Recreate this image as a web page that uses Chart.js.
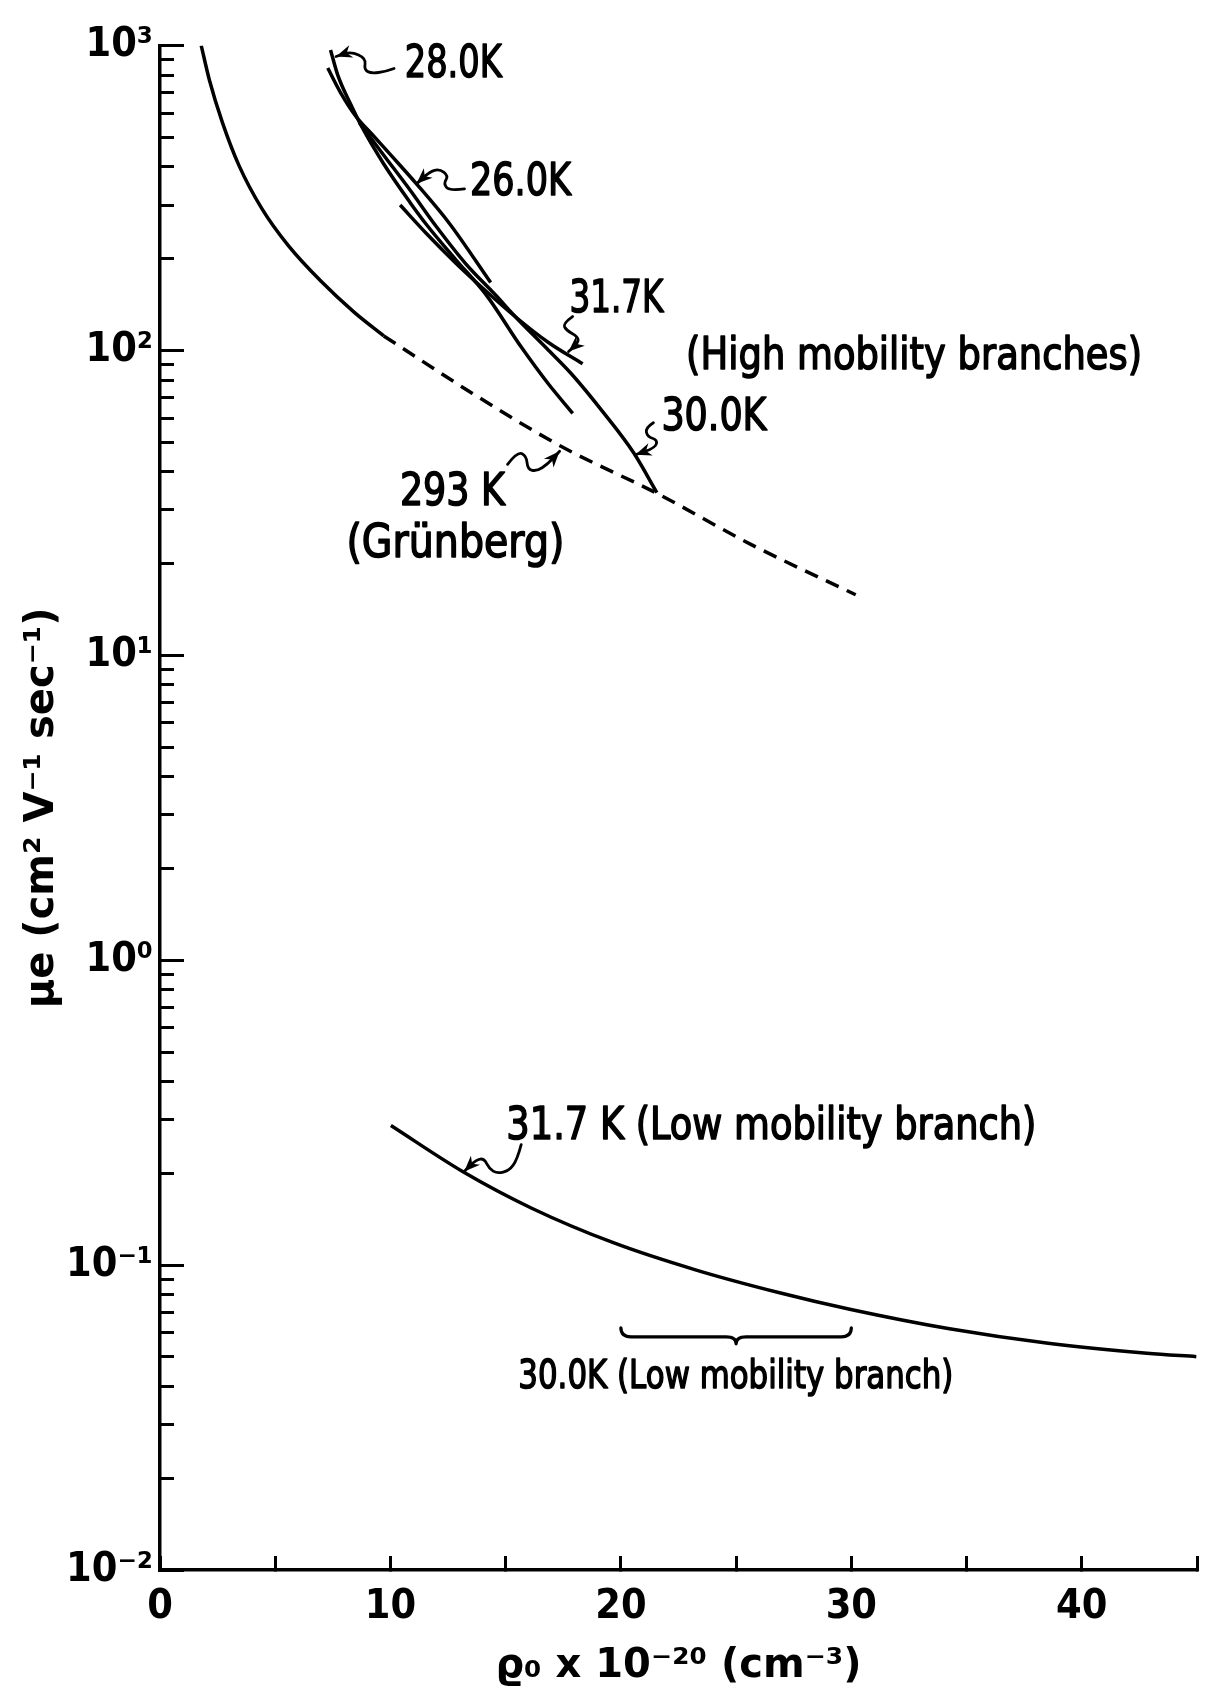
<!DOCTYPE html>
<html>
<head>
<meta charset="utf-8">
<style>
  html, body { margin: 0; padding: 0; background: #ffffff; }
  canvas { display: block; }
</style>
<script src="https://cdn.jsdelivr.net/npm/chart.js@4.4.1/dist/chart.umd.min.js"></script>
</head>
<body>
<canvas id="mobilityChart" width="1224" height="1697"></canvas>
<script>
// 293 K (Grünberg): solid part, then dashed continuation
const rho293Solid = [1.79, 2.14, 2.71, 3.43, 4.42, 5.57, 6.99, 8.42, 9.71];
const mu293Solid = [1000, 773, 559, 404, 292, 220.8, 168.6, 133.6, 111.6];
const rho293Dashed = [9.71, 13.56, 17.42, 21.56, 25.70, 30.19];
const mu293Dashed = [111.6, 72.3, 48.4, 34.0, 23.0, 15.8];

// high mobility branches
const rho26 = [7.28, 7.84, 8.48, 9.21, 10.06, 11.13, 12.56, 14.35];
const mu26 = [844, 700, 589, 511, 434, 352, 261, 167];
const rho28 = [7.40, 7.71, 8.28, 8.78, 9.71, 10.85, 11.56, 12.85, 14.13, 15.70, 16.84, 17.91];
const mu28 = [968, 802, 641, 538, 409, 306, 259, 198, 153, 102, 77.9, 62.2];
const rho30 = [8.65, 9.71, 10.85, 11.99, 13.28, 14.56, 15.42, 16.70, 17.85, 19.27, 20.56, 21.56];
const mu30 = [559, 437, 336, 255, 192, 152, 129, 103, 83.9, 62.2, 46.1, 34.2];
const rho317 = [10.42, 11.56, 12.85, 14.13, 15.42, 16.84, 18.34];
const mu317 = [300, 242, 193, 157, 129, 106.4, 90.4];

// 31.7 K low mobility branch
const rho317Low = [10.02, 13.13, 16.13, 19.70, 23.27, 26.84, 29.98, 34.26, 38.54, 42.83, 44.97];
const mu317Low = [0.287, 0.2028, 0.1537, 0.1182, 0.0963, 0.0813, 0.0715, 0.0618, 0.0554, 0.0514, 0.0501];

// 30.0 K low mobility branch: density range marked by the brace
const rho30LowRange = [20, 30];
const mu30LowLevel = 0.0582;

// axes
const xTickValues = [0, 5, 10, 15, 20, 25, 30, 35, 40, 45];
const xLabelledTicks = [0, 10, 20, 30, 40];
const yDecades = [0.01, 0.1, 1, 10, 100, 1000];
const yTickLabels = ["10⁻²", "10⁻¹", "10⁰", "10¹", "10²", "10³"];
const ySignificands = [1, 2, 3, 4, 5, 6, 7, 8, 9];
const xTitle = "ϱ₀ x 10⁻²⁰ (cm⁻³)";
const yTitle = "μe (cm² V⁻¹ sec⁻¹)";

const axisFont = { family: "'DejaVu Sans Condensed', 'DejaVu Sans', sans-serif", size: 41, weight: "bold" };
const titleFont = { family: "'DejaVu Sans', sans-serif", size: 40, weight: "bold" };
const labelFamily = "'DejaVu Sans', sans-serif";

// annotation texts, anchored at data coordinates (left edge, cap centre)
const curveLabels = [
  { text: "28.0K", x: 10.62, y: 889, width: 97, size: 44 },
  { text: "26.0K", x: 13.45, y: 365, width: 101, size: 44 },
  { text: "31.7K", x: 17.77, y: 151, width: 94, size: 44 },
  { text: "(High mobility branches)", x: 22.83, y: 98.4, width: 456, size: 44 },
  { text: "30.0K", x: 21.76, y: 61.9, width: 105, size: 44 },
  { text: "293 K", x: 10.41, y: 35.2, width: 105, size: 44 },
  { text: "(Grünberg)", x: 8.09, y: 23.9, width: 218, size: 46 },
  { text: "31.7 K (Low mobility branch)", x: 15.03, y: 0.2932, width: 530, size: 44 },
  { text: "30.0K (Low mobility branch)", x: 15.55, y: 0.0441, width: 435, size: 39 }
];

// wavy leader arrows: tip at data coordinates, shape as pixel offsets (tail -> tip)
const leaderArrows = [
  { x: 7.64, y: 921, path: [[58, 12], [50, 15], [35, 17], [28, 13], [30, 2], [15, -5], [0, 0]] },
  { x: 11.13, y: 352, path: [[48, 5], [33, 7], [27, 0], [32, -8], [23, -15], [13, -12], [0, 0]] },
  { x: 17.73, y: 99.2, path: [[4, -35], [-6, -28], [-2, -21], [9, -15], [10, -9], [0, 0]] },
  { x: 20.63, y: 45.5, path: [[18, -32], [10, -27], [12, -18], [22, -15], [20, -7], [0, 0]] },
  { x: 17.34, y: 46.7, path: [[-52, 13], [-42, 0], [-33, 5], [-32, 18], [-23, 20], [-12, 13], [0, 0]] },
  { x: 13.2, y: 0.2027, path: [[57, -27], [53, -12], [45, -1], [33, 2], [25, -3], [20, -13], [12, -12], [0, 0]] }
];

function toPoints(xs, ys) {
  return xs.map((x, i) => ({ x: x, y: ys[i] }));
}

function curve(data, dashed) {
  return {
    data: data,
    yAxisID: "y",
    borderColor: "#000000",
    borderWidth: 3.5,
    borderDash: dashed ? [14, 9] : [],
    pointRadius: 0,
    cubicInterpolationMode: "monotone",
    fill: false
  };
}

function drawFitText(ctx, text, left, centerY, width, size) {
  ctx.font = `${size}px ${labelFamily}`;
  const w = ctx.measureText(text).width;
  ctx.save();
  ctx.translate(left, centerY + size * 0.365);
  ctx.scale(width / w, 1);
  ctx.textBaseline = "alphabetic";
  ctx.textAlign = "left";
  ctx.lineWidth = 1.6;
  ctx.fillText(text, 0, 0);
  ctx.strokeText(text, 0, 0);
  ctx.restore();
}

function drawLeader(ctx, tipX, tipY, path) {
  const pts = path.map(p => [tipX + p[0], tipY + p[1]]);
  ctx.lineWidth = 2.8;
  ctx.beginPath();
  ctx.moveTo(pts[0][0], pts[0][1]);
  for (let i = 1; i < pts.length - 1; i++) {
    const mx = (pts[i][0] + pts[i + 1][0]) / 2;
    const my = (pts[i][1] + pts[i + 1][1]) / 2;
    ctx.quadraticCurveTo(pts[i][0], pts[i][1], mx, my);
  }
  ctx.lineTo(tipX, tipY);
  ctx.stroke();

  const prev = pts[pts.length - 2];
  const ang = Math.atan2(tipY - prev[1], tipX - prev[0]);
  const len = 16, half = 6.5;
  ctx.beginPath();
  ctx.moveTo(tipX, tipY);
  ctx.lineTo(tipX - len * Math.cos(ang) + half * Math.sin(ang), tipY - len * Math.sin(ang) - half * Math.cos(ang));
  ctx.lineTo(tipX - len * Math.cos(ang) * 0.7, tipY - len * Math.sin(ang) * 0.7);
  ctx.lineTo(tipX - len * Math.cos(ang) - half * Math.sin(ang), tipY - len * Math.sin(ang) + half * Math.cos(ang));
  ctx.closePath();
  ctx.fill();
}

function drawBrace(ctx, x1, x2, yPix) {
  const mid = (x1 + x2) / 2;
  ctx.lineWidth = 3.2;
  ctx.beginPath();
  ctx.moveTo(x1, yPix - 9);
  ctx.quadraticCurveTo(x1, yPix, x1 + 10, yPix);
  ctx.lineTo(mid - 10, yPix);
  ctx.quadraticCurveTo(mid, yPix, mid, yPix + 7);
  ctx.quadraticCurveTo(mid, yPix, mid + 10, yPix);
  ctx.lineTo(x2 - 10, yPix);
  ctx.quadraticCurveTo(x2, yPix, x2, yPix - 9);
  ctx.stroke();
}

const annotationPlugin = {
  id: "annotations",
  afterDatasetsDraw(chart) {
    const ctx = chart.ctx;
    const xs = chart.scales.x;
    const ys = chart.scales.y;
    ctx.save();
    ctx.fillStyle = "#000000";
    ctx.strokeStyle = "#000000";
    ctx.lineCap = "round";
    ctx.lineJoin = "round";
    curveLabels.forEach(l => {
      drawFitText(ctx, l.text, xs.getPixelForValue(l.x), ys.getPixelForValue(l.y), l.width, l.size);
    });
    leaderArrows.forEach(a => {
      drawLeader(ctx, xs.getPixelForValue(a.x), ys.getPixelForValue(a.y), a.path);
    });
    drawBrace(ctx, xs.getPixelForValue(rho30LowRange[0]), xs.getPixelForValue(rho30LowRange[1]),
      ys.getPixelForValue(mu30LowLevel));
    ctx.restore();
  }
};

function createMobilityChart() {
  const ctx = document.getElementById("mobilityChart");
  const yMinorValues = yDecades.flatMap(d => d === 1000 ? [d] : ySignificands.map(s => s * d));

  new Chart(ctx, {
    type: "line",
    data: {
      datasets: [
        curve(toPoints(rho293Solid, mu293Solid), false),
        curve(toPoints(rho293Dashed, mu293Dashed), true),
        curve(toPoints(rho26, mu26), false),
        curve(toPoints(rho28, mu28), false),
        curve(toPoints(rho30, mu30), false),
        curve(toPoints(rho317, mu317), false),
        curve(toPoints(rho317Low, mu317Low), false)
      ]
    },
    options: {
      responsive: false,
      devicePixelRatio: 1,
      animation: false,
      events: [],
      layout: { padding: { top: 32, right: 14, left: 0, bottom: 0 } },
      plugins: {
        legend: { display: false },
        tooltip: { enabled: false }
      },
      scales: {
        x: {
          type: "linear",
          min: 0,
          max: 45,
          afterBuildTicks: scale => { scale.ticks = xTickValues.map(v => ({ value: v })); },
          afterFit: scale => { scale.height = 127; },
          grid: { drawOnChartArea: false, tickLength: -14, tickWidth: 3, tickColor: "#000000" },
          border: { display: true, color: "#000000", width: 3.5 },
          ticks: {
            autoSkip: false,
            maxRotation: 0,
            padding: 27,
            color: "#000000",
            font: axisFont,
            callback: value => xLabelledTicks.includes(value) ? String(value) : ""
          },
          title: {
            display: true,
            text: xTitle,
            color: "#000000",
            font: titleFont,
            padding: { top: 0, bottom: 6 }
          }
        },
        y: {
          type: "logarithmic",
          position: "left",
          weight: 1,
          min: 0.01,
          max: 1000,
          afterBuildTicks: scale => { scale.ticks = yMinorValues.map(v => ({ value: v })); },
          afterFit: scale => { scale.width = 160; },
          grid: { drawOnChartArea: false, tickLength: -14, tickWidth: 3, tickColor: "#000000" },
          border: { display: true, color: "#000000", width: 3.5 },
          ticks: {
            autoSkip: false,
            padding: 21,
            color: "#000000",
            font: axisFont,
            callback: value => {
              const i = yDecades.indexOf(value);
              return i >= 0 ? yTickLabels[i] : "";
            }
          },
          title: {
            display: true,
            text: yTitle,
            color: "#000000",
            font: titleFont,
            padding: { top: 19, bottom: 0 }
          }
        },
        yMajor: {
          type: "logarithmic",
          position: "left",
          weight: 0,
          min: 0.01,
          max: 1000,
          afterBuildTicks: scale => { scale.ticks = yDecades.map(v => ({ value: v })); },
          afterFit: scale => { scale.width = 0; },
          grid: { drawOnChartArea: false, tickLength: -24, tickWidth: 3, tickColor: "#000000" },
          border: { display: false },
          ticks: { display: false }
        }
      }
    },
    plugins: [annotationPlugin]
  });
}

document.addEventListener("DOMContentLoaded", createMobilityChart);
</script>
</body>
</html>
